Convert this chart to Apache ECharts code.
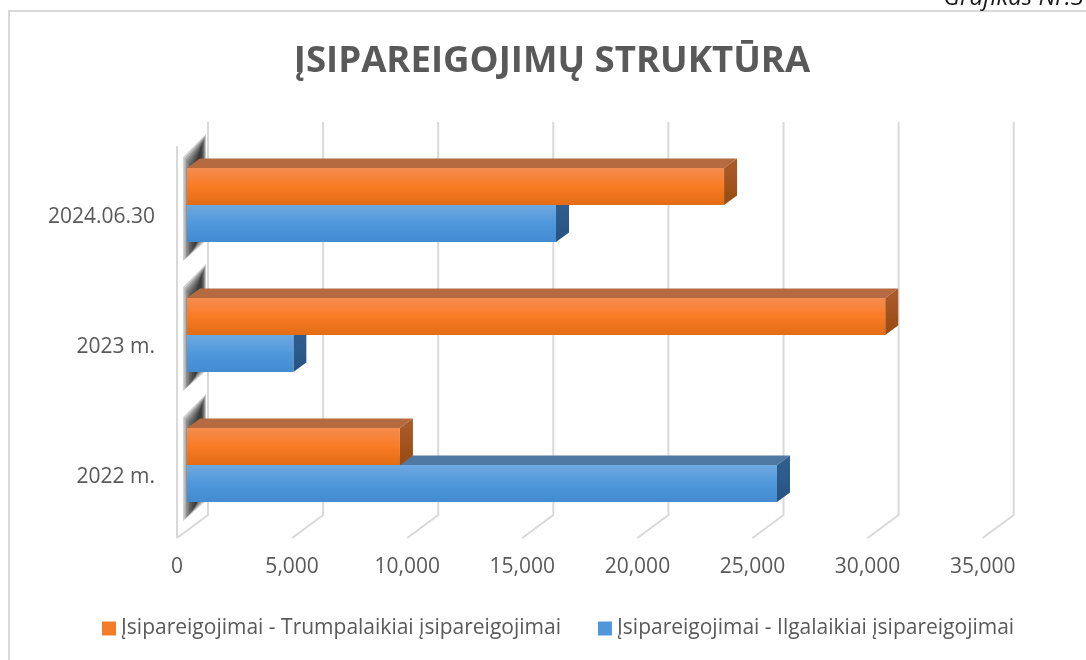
<!DOCTYPE html>
<html>
<head>
<meta charset="utf-8">
<style>html,body{margin:0;padding:0;background:#fff;overflow:hidden}#c{width:1086px;height:660px}</style>
<script src="https://cdn.jsdelivr.net/npm/echarts@6/dist/echarts.min.js"></script>
</head>
<body>
<div id="c"></div>
<script>
const categories = ['2022 m.', '2023 m.', '2024.06.30'];
const longTerm = [25630, 4620, 16030];
const shortTerm = [9250, 30330, 23330];
const ticks = [0, 5000, 10000, 15000, 20000, 25000, 30000, 35000];
const longName = 'Įsipareigojimai - Ilgalaikiai įsipareigojimai';
const shortName = 'Įsipareigojimai - Trumpalaikiai įsipareigojimai';

const FONT = '"Open Sans", sans-serif';
const grad = (a, b, c) => ({type:'linear',x:0,y:0,x2:0,y2:1,colorStops:[{offset:0,color:a},{offset:.5,color:b},{offset:1,color:c}]});
const orangeSkin = {front:grad('#f58c50','#f97b24','#e26c14'), top:'#b56a3f', side:grad('#aa5c2c','#a35420','#96490f')};
const blueSkin = {front:grad('#6fa8e0','#5098dc','#428bd0'), top:'#4f79a2', side:grad('#31608f','#2c5b8b','#27517f')};

function barRenderer(skin, dir){
  return function(params, api){
    const v = api.value(0), cat = api.value(1);
    const p0 = api.coord([0, cat]), p1 = api.coord([v, cat]);
    const band = api.size([0, 1])[1];
    const h = band * 0.2846, ox = 10, dx = 13, dy = 9.5;
    const mid = p0[1] - 6;
    const yt = dir < 0 ? mid - h : mid, yb = dir < 0 ? mid : mid + h;
    const x0 = p0[0] + ox, x1 = p1[0] + ox;
    const poly = (pts, fill) => ({type:'polygon',shape:{points:pts},style:{fill:fill}});
    return {type:'group',children:[
      poly([[x0,yt],[x0+dx,yt-dy],[x1+dx,yt-dy],[x1,yt]], skin.top),
      poly([[x1,yt],[x1+dx,yt-dy],[x1+dx,yb-dy],[x1,yb]], skin.side),
      {type:'rect',shape:{x:x0,y:yt,width:x1-x0,height:yb-yt},style:{fill:skin.front}}
    ]};
  };
}

const option = {
  animation:false,
  backgroundColor:'#fff',
  title:{text:'ĮSIPAREIGOJIMŲ STRUKTŪRA',left:547,top:38,textAlign:'center',
    textStyle:{fontFamily:FONT,fontSize:36.6,fontWeight:'bold',color:'#595959'}},
  graphic:[
    {type:'polyline',shape:{points:[[1086,11],[9,11],[9,660]]},style:{stroke:'#d9d9d9',lineWidth:2,fill:null},silent:true},
    {type:'text',right:2,top:-14,style:{text:'Grafikas Nr.3',font:'italic 24px '+FONT,fill:'#1a1a1a'},silent:true}
  ],
  legend:{
    data:[shortName,longName],left:97,top:613,itemWidth:14,itemHeight:14,itemGap:37,icon:'rect',
    textStyle:{fontFamily:FONT,fontSize:21,color:'#595959'}
  },
  grid:{left:177,top:146,width:805.7,height:390},
  xAxis:{type:'value',min:0,max:35000,interval:5000,
    splitLine:{show:false},axisLine:{show:false},axisTick:{show:false},
    axisLabel:{margin:21,fontFamily:FONT,fontSize:21,color:'#595959'}},
  yAxis:{type:'category',data:categories,
    axisLine:{show:false},axisTick:{show:false},
    axisLabel:{margin:22,verticalAlign:'top',lineHeight:12,fontFamily:FONT,fontSize:21,color:'#595959'}},
  series:[
    {type:'custom',name:'frame',z:1,silent:true,data:ticks.map(t=>[t,0]),encode:{x:0,y:1},
     renderItem(params,api){
       const x = api.coord([api.value(0),0])[0];
       const cs = params.coordSys, bottom = cs.y + cs.height + 2;
       const ln = {stroke:'#d9d9d9',lineWidth:2,fill:null};
       const pts = [[x+31,122],[x+31,515],[x,bottom]];
       const kids = [{type:'polyline',shape:{points:pts},style:ln}];
       if(api.value(0)===0) kids.push({type:'line',shape:{x1:x,y1:cs.y,x2:x,y2:bottom},style:ln});
       return {type:'group',children:kids};
     }},
    {type:'custom',name:'shade',z:2,silent:true,data:categories.map((c,i)=>[0,i]),encode:{x:0,y:1},
     renderItem(params,api){
       const p = api.coord([0,api.value(1)]);
       const x = p[0], m = p[1]-6;
       const kids = [];
       for(let k=0;k<9;k++){
         const s = k*1.5, r = s*0.4;
         kids.push({type:'polygon',shape:{points:[[x+6+s,m-48+s],[x+29-r,m-71+s],[x+29-r,m+36-s],[x+6+s,m+56-s]]},
           style:{fill:'rgba(30,30,30,0.2)'}});
       }
       return {type:'group',children:kids};
     }},
    {type:'custom',name:longName,z:3,data:longTerm.map((v,i)=>[v,i]),encode:{x:0,y:1},
     itemStyle:{color:'#4f96da'},renderItem:barRenderer(blueSkin,1)},
    {type:'custom',name:shortName,z:4,data:shortTerm.map((v,i)=>[v,i]),encode:{x:0,y:1},
     itemStyle:{color:'#f47b28'},renderItem:barRenderer(orangeSkin,-1)}
  ]
};
echarts.init(document.getElementById('c'),null,{renderer:'canvas'}).setOption(option);
</script>
</body>
</html>
